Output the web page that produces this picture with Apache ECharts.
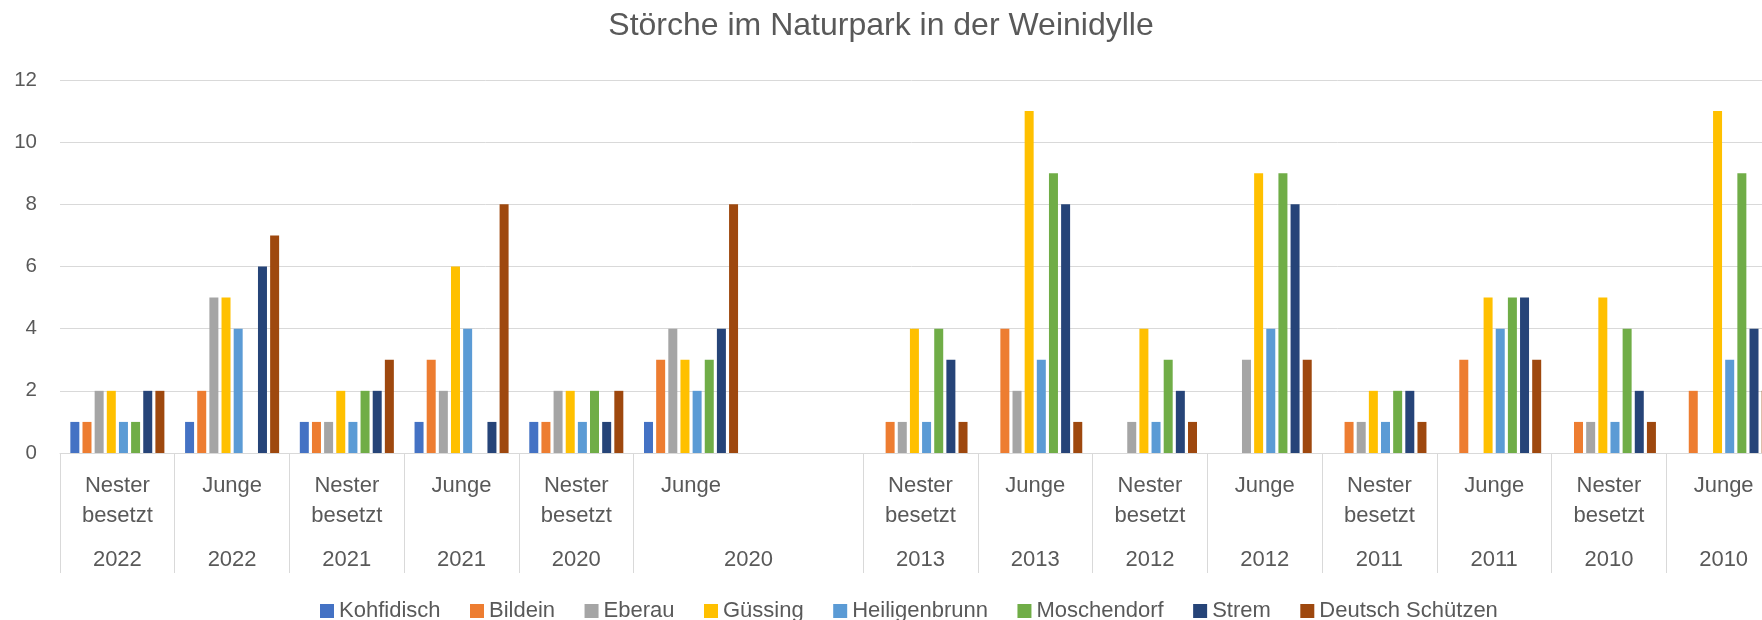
<!DOCTYPE html>
<html>
<head>
<meta charset="utf-8">
<script src="https://cdn.jsdelivr.net/npm/echarts@6/dist/echarts.min.js"></script>
<style>
html,body{margin:0;padding:0;background:#fff;}
#chart{width:1762px;height:620px;}
</style>
</head>
<body>
<div id="chart"></div>
<script>
// ---- data ----
const title = 'Störche im Naturpark in der Weinidylle';
const categories = ['Nester besetzt','Junge','Nester besetzt','Junge','Nester besetzt','Junge','','Nester besetzt','Junge','Nester besetzt','Junge','Nester besetzt','Junge','Nester besetzt','Junge'];
const years = ['2022','2022','2021','2021','2020','2020','','2013','2013','2012','2012','2011','2011','2010','2010'];
const seriesNames = ['Kohfidisch','Bildein','Eberau','Güssing','Heiligenbrunn','Moschendorf','Strem','Deutsch Schützen'];
const kohfidisch       = [1,1,1,1,1,1,null,0,0,0,0,0,0,0,0];
const bildein          = [1,2,1,3,1,3,null,1,4,0,0,1,3,1,2];
const eberau           = [2,5,1,2,2,4,null,1,2,1,3,1,0,1,0];
const guessing         = [2,5,2,6,2,3,null,4,11,4,9,2,5,5,11];
const heiligenbrunn    = [1,4,1,4,1,2,null,1,3,1,4,1,4,1,3];
const moschendorf      = [1,0,2,0,2,3,null,4,9,3,9,2,5,4,9];
const strem            = [2,6,2,1,1,4,null,3,8,2,8,2,5,2,4];
const deutschSchuetzen = [2,7,3,8,2,8,null,1,1,1,3,1,3,1,2];
const yTicks = {min:0, max:12, interval:2};
const colors = ['#4472C4','#ED7D31','#A5A5A5','#FFC000','#5B9BD5','#70AD47','#264478','#9E480E'];

const seriesValues = [kohfidisch,bildein,eberau,guessing,heiligenbrunn,moschendorf,strem,deutschSchuetzen];

// ---- multi-level label helpers (half-category points) ----
const nPts = categories.length*2 + 1;
const ptData = Array.from({length:nPts}, (_, k) => String(k));
const innerLabels = Array(nPts).fill('');
categories.forEach((c, i) => { innerLabels[2*i+1] = c.replace(' ', '\n'); });
const groups = [];
years.forEach((y, i) => {
  if (y === '' && groups.length) groups[groups.length-1].count++;
  else groups.push({year:y, start:i, count:1});
});
const yearLabels = Array(nPts).fill('');
const boundaries = new Set([nPts-1]);
groups.forEach(g => { yearLabels[2*g.start + g.count] = g.year; boundaries.add(2*g.start); });

const txt = '#595959';
const font = 'Liberation Sans';
const gridColor = '#D9D9D9';

const chart = echarts.init(document.getElementById('chart'), null, {renderer:'canvas'});
chart.setOption({
  animation:false,
  color: colors,
  textStyle:{fontFamily:font},
  title:{
    text:title, left:'center', top:10, padding:0,
    textStyle:{fontFamily:font, fontSize:32, fontWeight:'normal', color:txt}
  },
  legend:{
    data:seriesNames, left:320, top:600, padding:0,
    icon:'rect', itemWidth:14, itemHeight:14, itemGap:29.5,
    textStyle:{fontFamily:font, fontSize:22, color:txt}
  },
  grid:{left:60, top:80, width:1721, height:373, containLabel:false, outerBoundsMode:'none'},
  xAxis:[
    {type:'category', data:categories, gridIndex:0,
     axisLine:{show:true, lineStyle:{color:gridColor, width:1}},
     axisTick:{show:false}, axisLabel:{show:false}, splitLine:{show:false}},
    {type:'category', data:ptData, gridIndex:0, boundaryGap:false, position:'bottom',
     axisLine:{show:false},
     axisTick:{show:true, interval:(idx) => boundaries.has(idx), length:120, inside:false,
               lineStyle:{color:gridColor, width:1}},
     axisLabel:{interval:0, formatter:(v, idx) => innerLabels[idx], fontFamily:font, fontSize:22,
                lineHeight:30, color:txt, margin:18, hideOverlap:false},
     splitLine:{show:false}},
    {type:'category', data:ptData, gridIndex:0, boundaryGap:false, position:'bottom',
     axisLine:{show:false}, axisTick:{show:false},
     axisLabel:{interval:0, formatter:(v, idx) => yearLabels[idx], fontFamily:font, fontSize:22,
                lineHeight:22, color:txt, margin:96, hideOverlap:false},
     splitLine:{show:false}}
  ],
  yAxis:{
    type:'value', min:yTicks.min, max:yTicks.max, interval:yTicks.interval,
    axisLine:{show:false}, axisTick:{show:false},
    axisLabel:{fontFamily:font, fontSize:20.5, color:txt, margin:23},
    splitLine:{lineStyle:{color:gridColor, width:1}}
  },
  series: seriesNames.map((name, i) => ({
    name, type:'bar', xAxisIndex:0, data:seriesValues[i],
    barWidth:9, barGap:'35%',
    itemStyle:{color:colors[i]}
  }))
});
</script>
</body>
</html>
